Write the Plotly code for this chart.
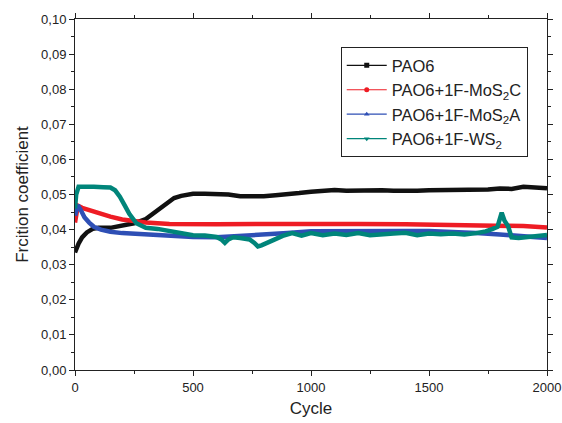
import plotly.graph_objects as go

# ---- data ----
pao6_x = [0, 5, 15, 30, 50, 75, 100, 150, 200, 250, 300, 330, 360, 390, 420, 450, 500, 550, 600, 650, 700, 750, 800, 850, 900, 950, 1000, 1050, 1100, 1150, 1200, 1250, 1300, 1350, 1400, 1450, 1500, 1550, 1600, 1650, 1700, 1750, 1800, 1850, 1900, 1950, 2000]
pao6_y = [0.0335, 0.0345, 0.036, 0.0378, 0.0392, 0.0402, 0.0405, 0.0405, 0.041, 0.0418, 0.043, 0.0445, 0.046, 0.0478, 0.049, 0.0496, 0.0502, 0.0502, 0.0502, 0.050, 0.0495, 0.0494, 0.0495, 0.0498, 0.050, 0.0504, 0.0508, 0.0512, 0.0513, 0.0511, 0.0512, 0.0511, 0.0512, 0.0511, 0.051, 0.0511, 0.0512, 0.0512, 0.0514, 0.0512, 0.0511, 0.0514, 0.0517, 0.0516, 0.0522, 0.0521, 0.0518]

mosc_x = [0, 5, 12, 30, 60, 100, 150, 200, 250, 300, 400, 500, 600, 800, 1000, 1200, 1400, 1600, 1800, 1900, 2000]
mosc_y = [0.042, 0.045, 0.0468, 0.0462, 0.0455, 0.0447, 0.0437, 0.0429, 0.0423, 0.042, 0.0416, 0.0415, 0.0415, 0.0416, 0.0417, 0.0416, 0.0415, 0.0414, 0.0412, 0.041, 0.0406]

mosa_x = [0, 5, 12, 25, 40, 60, 80, 110, 150, 200, 300, 400, 500, 600, 700, 800, 900, 1000, 1100, 1200, 1300, 1400, 1500, 1600, 1700, 1800, 1900, 2000]
mosa_y = [0.044, 0.046, 0.047, 0.0455, 0.0435, 0.042, 0.0408, 0.0400, 0.0394, 0.039, 0.0386, 0.0382, 0.0379, 0.0378, 0.0381, 0.0386, 0.039, 0.0395, 0.0396, 0.0396, 0.0397, 0.0396, 0.0396, 0.0394, 0.039, 0.0386, 0.0382, 0.0376]

ws2_x = [0, 5, 15, 40, 80, 120, 150, 170, 190, 210, 230, 260, 300, 350, 400, 450, 500, 550, 600, 620, 635, 650, 670, 700, 740, 760, 775, 790, 810, 840, 880, 920, 960, 1000, 1050, 1100, 1150, 1200, 1250, 1300, 1350, 1400, 1450, 1500, 1550, 1600, 1650, 1700, 1740, 1770, 1790, 1808, 1820, 1835, 1850, 1880, 1920, 1960, 2000]
ws2_y = [0.046, 0.050, 0.0522, 0.0523, 0.0522, 0.0521, 0.052, 0.0512, 0.0494, 0.047, 0.0445, 0.0418, 0.0405, 0.0402, 0.0396, 0.0392, 0.0384, 0.0383, 0.0379, 0.0372, 0.0362, 0.0372, 0.0378, 0.0376, 0.0372, 0.0362, 0.0352, 0.0355, 0.0362, 0.037, 0.0382, 0.039, 0.0383, 0.039, 0.0384, 0.0389, 0.0385, 0.039, 0.0384, 0.0388, 0.0389, 0.0391, 0.0384, 0.0389, 0.0387, 0.0389, 0.0386, 0.039, 0.0395, 0.0402, 0.0408, 0.0448, 0.0425, 0.041, 0.0378, 0.0376, 0.0378, 0.0383, 0.0385]

names = ["PAO6", "PAO6+1F-MoS<sub>2</sub>C", "PAO6+1F-MoS<sub>2</sub>A", "PAO6+1F-WS<sub>2</sub>"]
colors = ["#111111", "#ee1c24", "#2e4fb5", "#00857a"]
symbols = ["square", "circle", "triangle-up", "triangle-down"]

y_ticks = [0.0, 0.01, 0.02, 0.03, 0.04, 0.05, 0.06, 0.07, 0.08, 0.09, 0.10]
y_labels = ["0,00", "0,01", "0,02", "0,03", "0,04", "0,05", "0,06", "0,07", "0,08", "0,09", "0,10"]
x_ticks = [0, 500, 1000, 1500, 2000]

series = [(pao6_x, pao6_y), (mosc_x, mosc_y), (mosa_x, mosa_y), (ws2_x, ws2_y)]

fig = go.Figure()
for (xs, ys), c in zip(series, colors):
    fig.add_trace(go.Scatter(x=xs, y=ys, mode="lines", line=dict(color=c, width=4.5),
                             showlegend=False, hoverinfo="skip"))
# legend entries (thin line with small marker)
for n, c, s in zip(names, colors, symbols):
    fig.add_trace(go.Scatter(x=[None], y=[None], mode="lines+markers", name=n,
                             line=dict(color=c, width=1.2),
                             marker=dict(symbol=s, size=5, color=c)))

fig.update_layout(
    width=562, height=423,
    margin=dict(l=75, r=15, t=19, b=53),
    plot_bgcolor="white", paper_bgcolor="white",
    font=dict(family="Liberation Sans, Arial, sans-serif", color="#222222"),
    legend=dict(x=0.563, y=0.92, xanchor="left", yanchor="top",
                bordercolor="#222222", borderwidth=1, bgcolor="white",
                font=dict(size=16.5, color="#222222"), tracegroupgap=0,
                itemwidth=40),
    showlegend=True,
)
fig.update_xaxes(
    range=[0, 2000], tickvals=x_ticks, showgrid=False, zeroline=False, automargin=False,
    showline=True, linecolor="#222222", linewidth=1, mirror="allticks",
    ticks="outside", ticklen=5, tickcolor="#222222", tickfont=dict(size=13),
    minor=dict(dtick=250, ticks="outside", ticklen=3, tickcolor="#222222"),
    title=dict(text="Cycle", font=dict(size=17), standoff=8),
)
fig.update_yaxes(
    range=[0, 0.10], tickvals=y_ticks, ticktext=y_labels, showgrid=False, zeroline=False, automargin=False,
    showline=True, linecolor="#222222", linewidth=1, mirror="allticks",
    ticks="outside", ticklen=5, tickcolor="#222222", tickfont=dict(size=13),
    minor=dict(dtick=0.005, ticks="outside", ticklen=3, tickcolor="#222222"),
    title=dict(text="Frcition coefficient", font=dict(size=17), standoff=8),
)

# remove the page's default body margin and scrollbars so the figure fills the window
page_css = ("document.body.style.margin='0px';"
            "document.body.style.overflow='hidden';"
            "document.documentElement.style.overflow='hidden';")
fig.write_html("out.html", post_script=page_css, config={"displayModeBar": False})
